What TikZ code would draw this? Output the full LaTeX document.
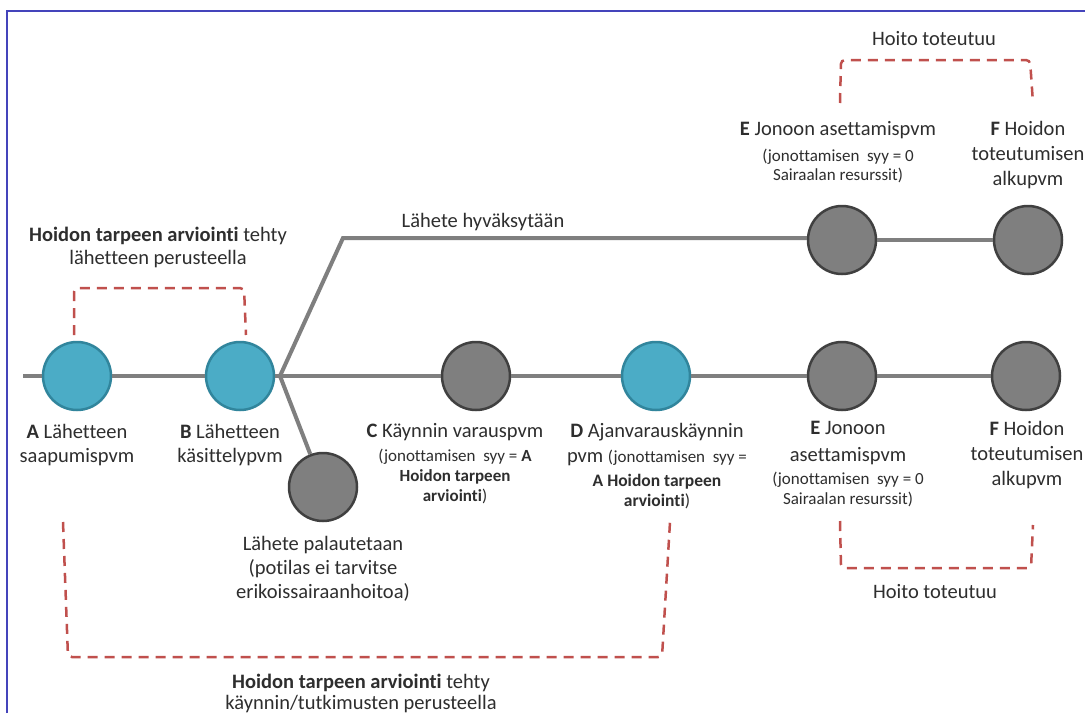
\documentclass[tikz,border=0pt]{standalone}
\usepackage{fontspec}
\setmainfont{Carlito}[Ligatures=NoCommon]
\definecolor{txt}{HTML}{2E2E2E}
\definecolor{trk}{HTML}{7F7F7F}
\definecolor{tealf}{HTML}{4BACC6}
\definecolor{teald}{HTML}{31859C}
\definecolor{grayf}{HTML}{7F7F7F}
\definecolor{grayd}{HTML}{404040}
\definecolor{dred}{HTML}{C0504D}
\definecolor{frame}{HTML}{4444BB}
\begin{document}
\begin{tikzpicture}[x=1pt,y=-1pt,
  track/.style={draw=trk,line width=4pt},
  bluedot/.style={circle,minimum size=68pt,inner sep=0pt,fill=tealf,draw=teald,line width=2.5pt},
  graydot/.style={circle,minimum size=68pt,inner sep=0pt,fill=grayf,draw=grayd,line width=2.5pt},
  brace/.style={draw=dred,line width=2.5pt,dash pattern=on 10pt off 7pt,rounded corners=4pt},
  lbl/.style={align=center,inner sep=0pt,anchor=north,text=txt,font=\fontsize{20.5}{25}\selectfont},
  sml/.style={align=center,inner sep=0pt,anchor=north,text=txt,font=\fontsize{17}{20}\selectfont}]
\useasboundingbox (0,0) rectangle (1085,713);
\fill[white] (0,0) rectangle (1085,713);
\draw[frame,line width=2pt] (7,713) -- (7,11) -- (1085,11);

% nodes
\node[bluedot] (A) at (77,376) {};
\node[bluedot] (B) at (240,376) {};
\node[graydot] (R) at (323,487) {};
\node[graydot] (C) at (476,376) {};
\node[bluedot] (D) at (656,376) {};
\node[graydot] (E2) at (842,376) {};
\node[graydot] (F2) at (1026,376) {};
\node[graydot] (E1) at (842,240) {};
\node[graydot] (F1) at (1028,240) {};
\coordinate (start) at (23,376);
\coordinate (br) at (280,376);
\coordinate (up) at (343,238);

% tracks
\draw[track] (start) -- (A);
\draw[track] (A) -- (B);
\draw[track] (B) -- (br);
\draw[track] (br) -- (C);
\draw[track] (C) -- (D);
\draw[track] (D) -- (E2);
\draw[track] (E2) -- (F2);
\draw[track] (br) -- (R);
\draw[track,line join=miter] (br) -- (up) -- (up -| E1.west);
\draw[track] (E1) -- (F1);

% dashed brackets
\draw[brace] (74,335) -- (74,288) -- (244,288) -- (246,335);
\draw[brace] (840,103) -- (841,60) -- (1030,60) -- (1033,103);
\draw[brace] (840,521) -- (841,568) -- (1031,568) -- (1033,525);
\draw[brace] (63,522) -- (68,657) -- (662,657) -- (670,522);

% labels
\node[lbl,font=\fontsize{20.5}{23}\selectfont] (tl) at (158,227) {\textbf{Hoidon tarpeen arviointi} tehty\\lähetteen perusteella};
\node[lbl] (ht1) at (934,31) {Hoito toteutuu};
\node[lbl] (e1a) at (838,121) {\textbf{E} Jonoon asettamispvm};
\node[sml,font=\fontsize{17}{18.5}\selectfont] (e1b) at (838,149) {(jonottamisen\ \ syy = 0\\Sairaalan resurssit)};
\node[lbl,font=\fontsize{20.5}{25}\selectfont] (f1a) at (1028,121) {\textbf{F} Hoidon\\toteutumisen\\alkupvm};
\node[lbl] (hyv) at (483,213) {Lähete hyväksytään};
\node[lbl,font=\fontsize{20.5}{24}\selectfont] (la) at (77,424) {\textbf{A} Lähetteen\\saapumispvm};
\node[lbl,font=\fontsize{20.5}{24}\selectfont] (lb) at (230,424) {\textbf{B} Lähetteen\\käsittelypvm};
\node[lbl,font=\fontsize{20.5}{24}\selectfont] (lr) at (323,536) {Lähete palautetaan\\(potilas ei tarvitse\\erikoissairaanhoitoa)};
\node[lbl] (lc1) at (455,423) {\textbf{C} Käynnin varauspvm};
\node[sml] (lc2) at (455,449) {(jonottamisen\ \ syy = \textbf{A}\\\textbf{Hoidon tarpeen}\\\textbf{arviointi})};
\node[lbl] (ld1) at (657,423) {\textbf{D} Ajanvarauskäynnin\\pvm {\fontsize{17}{20}\selectfont(jonottamisen\ \ syy =}};
\node[sml,font=\fontsize{17.5}{20}\selectfont] (ld2) at (657,474) {\textbf{A Hoidon tarpeen}\\\textbf{arviointi})};
\node[lbl,font=\fontsize{20.5}{27}\selectfont] (le2a) at (848,421) {\textbf{E} Jonoon\\asettamispvm};
\node[sml] (le2b) at (848,472) {(jonottamisen\ \ syy = 0\\Sairaalan resurssit)};
\node[lbl,font=\fontsize{20.5}{25}\selectfont] (lf2) at (1027,421) {\textbf{F} Hoidon\\toteutumisen\\alkupvm};
\node[lbl] (ht2) at (935,584) {Hoito toteutuu};
\node[lbl,font=\fontsize{20.5}{21}\selectfont] (bot) at (361,674) {\textbf{Hoidon tarpeen arviointi} tehty\\käynnin/tutkimusten perusteella};
\end{tikzpicture}
\end{document}
